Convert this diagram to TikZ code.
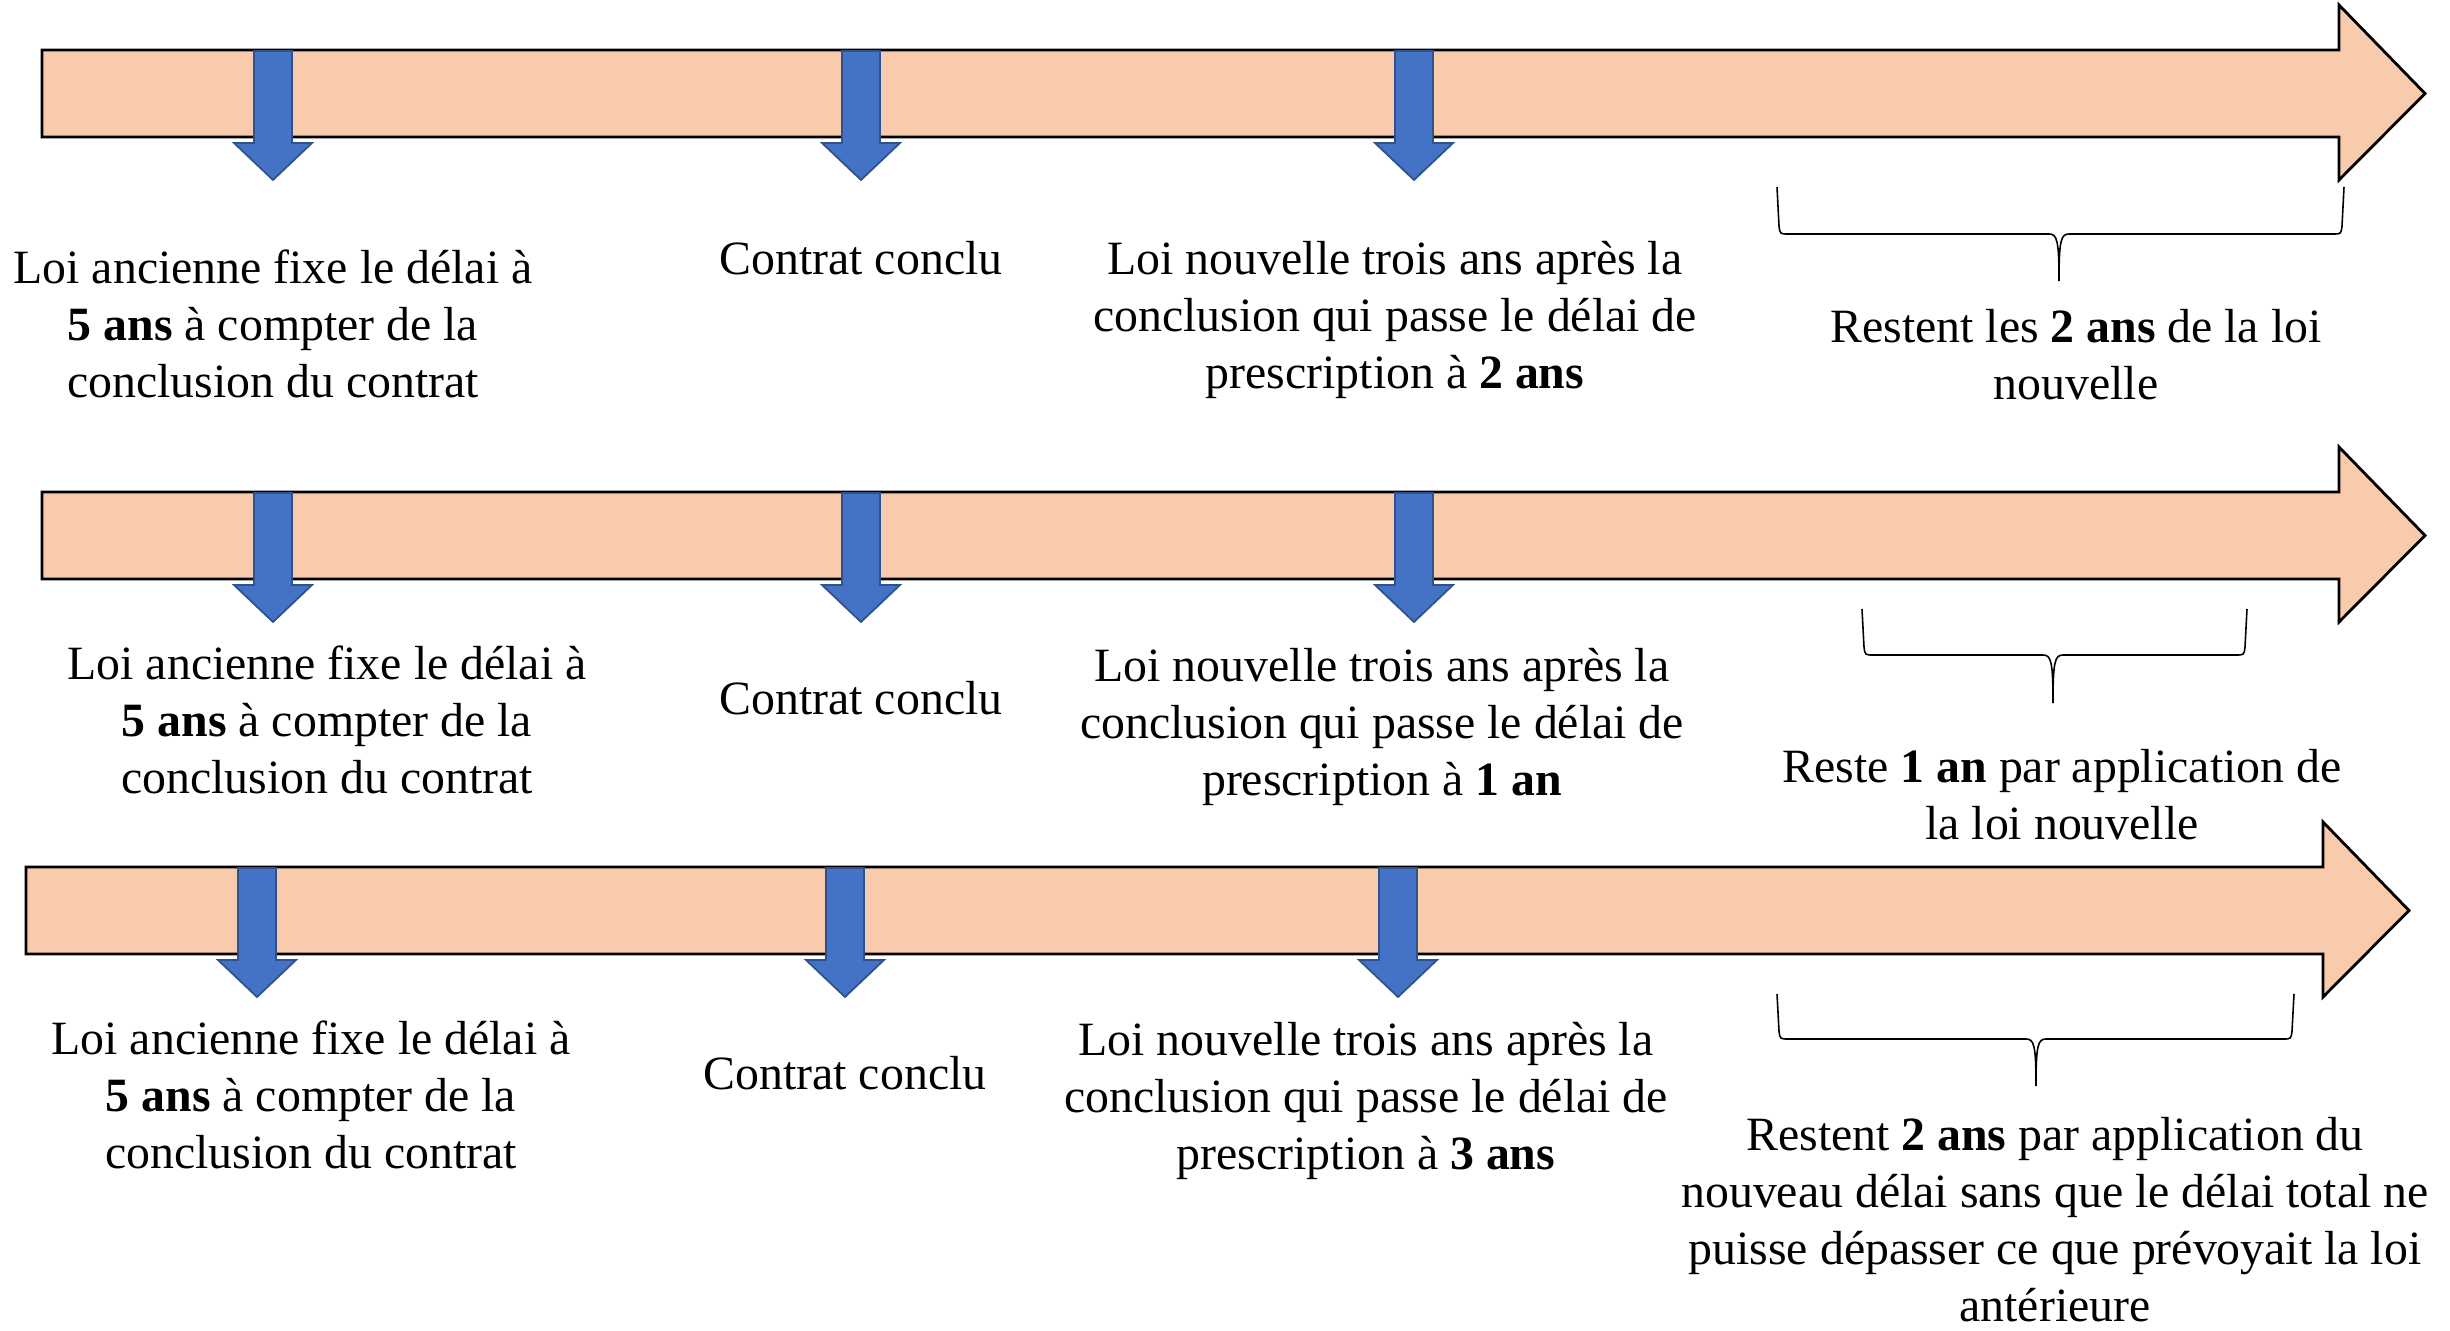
\documentclass[tikz,border=0pt]{standalone}
\usepackage{fontspec}
\setmainfont{Liberation Serif}
\usepackage{xcolor}
\usepackage{tikz}
\usetikzlibrary{positioning}
\definecolor{bandfill}{HTML}{F8CBAD}
\definecolor{markblue}{HTML}{4472C4}
\definecolor{markedge}{HTML}{2F528F}

\begin{document}
\begin{tikzpicture}[
  band/.style={fill=bandfill, draw=black, line width=0.8pt, line join=miter},
  downarrow/.style={fill=markblue, draw=markedge, line width=0.5pt},
  note/.style={align=center, inner sep=0pt, font=\fontsize{13.6}{16.2}\selectfont},
  curly/.style={draw=black, line width=0.45pt}
]
\useasboundingbox (0,0) rectangle (24.5,-13.31);
% row 1: new delay of 2 years
\begin{scope}[shift={(0,0)}]
\draw[band] (0.42,-0.50) -- (23.39,-0.50) -- (23.39,-0.05) -- (24.25,-0.935) -- (23.39,-1.80) -- (23.39,-1.37) -- (0.42,-1.37) -- cycle;
\draw[downarrow] (2.54,-0.51) -- ++(0,-0.92) -- ++(-0.20,0) -- ++(0.39,-0.37) -- ++(0.39,0.37) -- ++(-0.20,0) -- ++(0,0.92) -- cycle;
\draw[downarrow] (8.42,-0.51) -- ++(0,-0.92) -- ++(-0.20,0) -- ++(0.39,-0.37) -- ++(0.39,0.37) -- ++(-0.20,0) -- ++(0,0.92) -- cycle;
\draw[downarrow] (13.95,-0.51) -- ++(0,-0.92) -- ++(-0.20,0) -- ++(0.39,-0.37) -- ++(0.39,0.37) -- ++(-0.20,0) -- ++(0,0.92) -- cycle;
\draw[curly] (17.77,-1.87) -- (17.79,-2.26) .. controls (17.80,-2.34) .. (17.88,-2.34) -- (20.49,-2.34) .. controls (20.57,-2.34) and (20.59,-2.40) .. (20.59,-2.81) .. controls (20.59,-2.40) and (20.61,-2.34) .. (20.69,-2.34) -- (23.33,-2.34) .. controls (23.41,-2.34) .. (23.42,-2.26) -- (23.44,-1.87);
\node[note] (ancienA) at (2.73,-3.24) {Loi ancienne fixe le délai à\\\textbf{5 ans} à compter de la\\conclusion du contrat};
\node[note] (contratA) at (8.61,-2.58) {Contrat conclu};
\node[note] (nouvelleA) at (13.95,-3.20) {Loi nouvelle trois ans après la\\conclusion qui passe le délai de\\prescription à \textbf{2 ans}};
\node[note] (resteA) at (20.76,-3.55) {Restent les \textbf{2 ans} de la loi\\nouvelle};
\end{scope}
% row 2: new delay of 1 year
\begin{scope}[shift={(0,-4.42)}]
\draw[band] (0.42,-0.50) -- (23.39,-0.50) -- (23.39,-0.05) -- (24.25,-0.935) -- (23.39,-1.80) -- (23.39,-1.37) -- (0.42,-1.37) -- cycle;
\draw[downarrow] (2.54,-0.51) -- ++(0,-0.92) -- ++(-0.20,0) -- ++(0.39,-0.37) -- ++(0.39,0.37) -- ++(-0.20,0) -- ++(0,0.92) -- cycle;
\draw[downarrow] (8.42,-0.51) -- ++(0,-0.92) -- ++(-0.20,0) -- ++(0.39,-0.37) -- ++(0.39,0.37) -- ++(-0.20,0) -- ++(0,0.92) -- cycle;
\draw[downarrow] (13.95,-0.51) -- ++(0,-0.92) -- ++(-0.20,0) -- ++(0.39,-0.37) -- ++(0.39,0.37) -- ++(-0.20,0) -- ++(0,0.92) -- cycle;
\draw[curly] (18.62,-1.67) -- (18.64,-2.05) .. controls (18.65,-2.13) .. (18.73,-2.13) -- (20.43,-2.13) .. controls (20.51,-2.13) and (20.53,-2.19) .. (20.53,-2.61) .. controls (20.53,-2.19) and (20.55,-2.13) .. (20.63,-2.13) -- (22.36,-2.13) .. controls (22.44,-2.13) .. (22.45,-2.05) -- (22.47,-1.67);
\node[note] (ancienB) at (3.27,-2.78) {Loi ancienne fixe le délai à\\\textbf{5 ans} à compter de la\\conclusion du contrat};
\node[note] (contratB) at (8.61,-2.56) {Contrat conclu};
\node[note] (nouvelleB) at (13.82,-2.85) {Loi nouvelle trois ans après la\\conclusion qui passe le délai de\\prescription à \textbf{1 an}};
\node[note] (resteB) at (20.62,-3.53) {Reste \textbf{1 an} par application de\\la loi nouvelle};
\end{scope}
% row 3: new delay of 3 years
\begin{scope}[shift={(-0.16,-8.17)}]
\draw[band] (0.42,-0.50) -- (23.39,-0.50) -- (23.39,-0.05) -- (24.25,-0.935) -- (23.39,-1.80) -- (23.39,-1.37) -- (0.42,-1.37) -- cycle;
\draw[downarrow] (2.54,-0.51) -- ++(0,-0.92) -- ++(-0.20,0) -- ++(0.39,-0.37) -- ++(0.39,0.37) -- ++(-0.20,0) -- ++(0,0.92) -- cycle;
\draw[downarrow] (8.42,-0.51) -- ++(0,-0.92) -- ++(-0.20,0) -- ++(0.39,-0.37) -- ++(0.39,0.37) -- ++(-0.20,0) -- ++(0,0.92) -- cycle;
\draw[downarrow] (13.95,-0.51) -- ++(0,-0.92) -- ++(-0.20,0) -- ++(0.39,-0.37) -- ++(0.39,0.37) -- ++(-0.20,0) -- ++(0,0.92) -- cycle;
\draw[curly] (17.93,-1.77) -- (17.95,-2.14) .. controls (17.96,-2.22) .. (18.04,-2.22) -- (20.42,-2.22) .. controls (20.50,-2.22) and (20.52,-2.28) .. (20.52,-2.69) .. controls (20.52,-2.28) and (20.54,-2.22) .. (20.62,-2.22) -- (22.99,-2.22) .. controls (23.07,-2.22) .. (23.08,-2.14) -- (23.10,-1.77);
\node[note] (ancienC) at (3.27,-2.78) {Loi ancienne fixe le délai à\\\textbf{5 ans} à compter de la\\conclusion du contrat};
\node[note] (contratC) at (8.61,-2.56) {Contrat conclu};
\node[note] (nouvelleC) at (13.82,-2.84) {Loi nouvelle trois ans après la\\conclusion qui passe le délai de\\prescription à \textbf{3 ans}};
\node[note] (resteC) at (20.71,-4.03) {Restent \textbf{2 ans} par application du\\nouveau délai sans que le délai total ne\\puisse dépasser ce que prévoyait la loi\\antérieure};
\end{scope}
\end{tikzpicture}
\end{document}
